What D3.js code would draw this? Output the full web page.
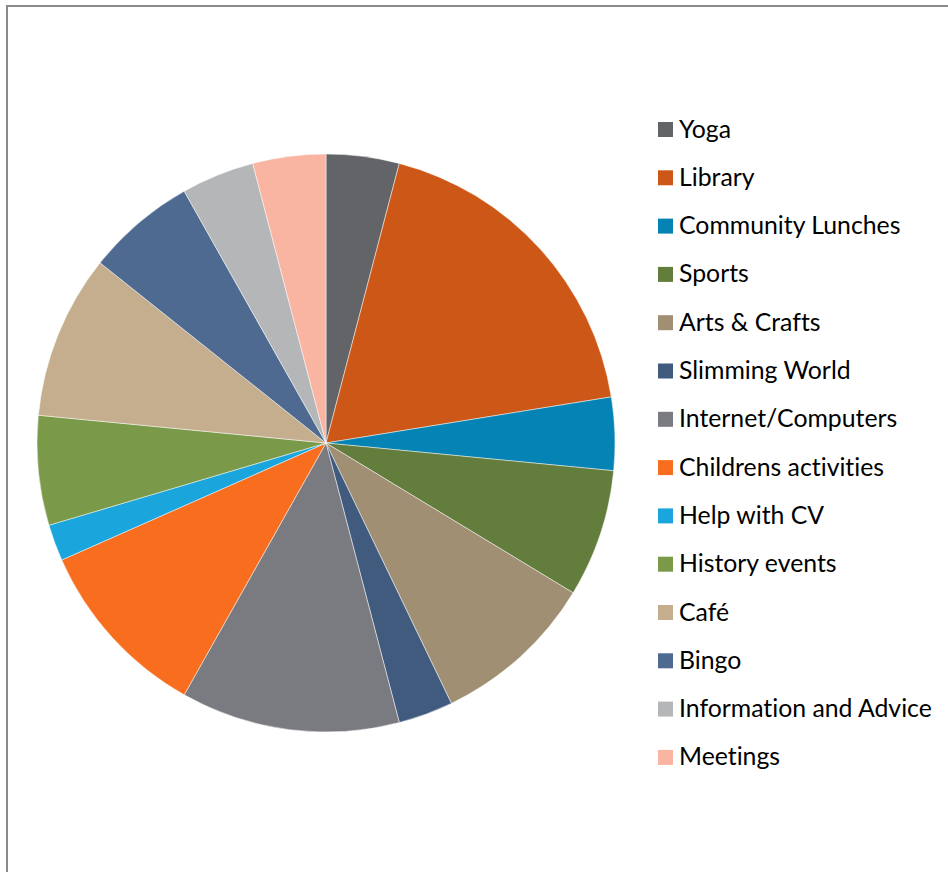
<!DOCTYPE html>
<html>
<head>
<meta charset="utf-8">
<script src="https://cdn.jsdelivr.net/npm/d3@7/dist/d3.min.js"></script>
<style>
  html, body { margin: 0; padding: 0; background: #fff; }
  svg { display: block; }
  .legend text { font-variant-ligatures: none; font-feature-settings: "liga" 0; }
</style>
</head>
<body>
<svg id="chart" width="948" height="872"></svg>
<script>
// Activities people would use, by number of responses
const categories = [
  "Yoga", "Library", "Community Lunches", "Sports", "Arts & Crafts",
  "Slimming World", "Internet/Computers", "Childrens activities",
  "Help with CV", "History events", "Café", "Bingo",
  "Information and Advice", "Meetings"
];
const values = [4, 18, 4, 7, 9, 3, 12, 10, 2, 6, 9, 6, 4, 4];
const colors = [
  "#636468", "#CD5716", "#0583B4", "#627D3C", "#A08F73",
  "#415B7E", "#7A7B80", "#F96D1F", "#1AA5DC", "#7A9A4A",
  "#C5AE8D", "#4E6A91", "#B5B6B8", "#FAB4A2"
];

const svg = d3.select("#chart");
const W = 948, H = 872;

// Chart frame (extends past the right and bottom edges)
svg.append("rect")
  .attr("x", 7).attr("y", 6)
  .attr("width", W + 20).attr("height", H + 20)
  .attr("fill", "none")
  .attr("stroke", "#8a8a8a")
  .attr("stroke-width", 2);

const cx = 326, cy = 443, r = 289;

const color = d3.scaleOrdinal().domain(categories).range(colors);
const pie = d3.pie().sort(null).value(d => d.value);
const arc = d3.arc().innerRadius(0).outerRadius(r);

const data = categories.map((c, i) => ({ name: c, value: values[i] }));

svg.append("g")
  .attr("transform", `translate(${cx},${cy})`)
  .selectAll("path")
  .data(pie(data))
  .join("path")
  .attr("d", arc)
  .attr("fill", d => color(d.data.name))
  .attr("stroke", "#ffffff")
  .attr("stroke-opacity", 0.6)
  .attr("stroke-width", 0.8);

// Legend
const legend = svg.append("g").attr("class", "legend").attr("transform", "translate(658,0)");
const rowStep = 48.3, firstCenter = 129.5;
const items = legend.selectAll("g")
  .data(categories)
  .join("g")
  .attr("transform", (d, i) => `translate(0,${firstCenter + i * rowStep})`);

items.append("rect")
  .attr("x", 0).attr("y", -7.5)
  .attr("width", 15).attr("height", 15)
  .attr("fill", d => color(d));

const labels = items.append("text")
  .attr("x", 21)
  .attr("y", 8)
  .attr("font-family", "Lato, 'Open Sans', sans-serif")
  .attr("font-size", 22)
  .attr("fill", "#000")
  .text(d => d);

// Size the legend font so the longest label spans its intended width
const longest = labels.filter(d => d === "Information and Advice").node();
const w = longest.getComputedTextLength();
const fs = 22 * 253 / w;
labels.attr("font-size", fs);
</script>
</body>
</html>
